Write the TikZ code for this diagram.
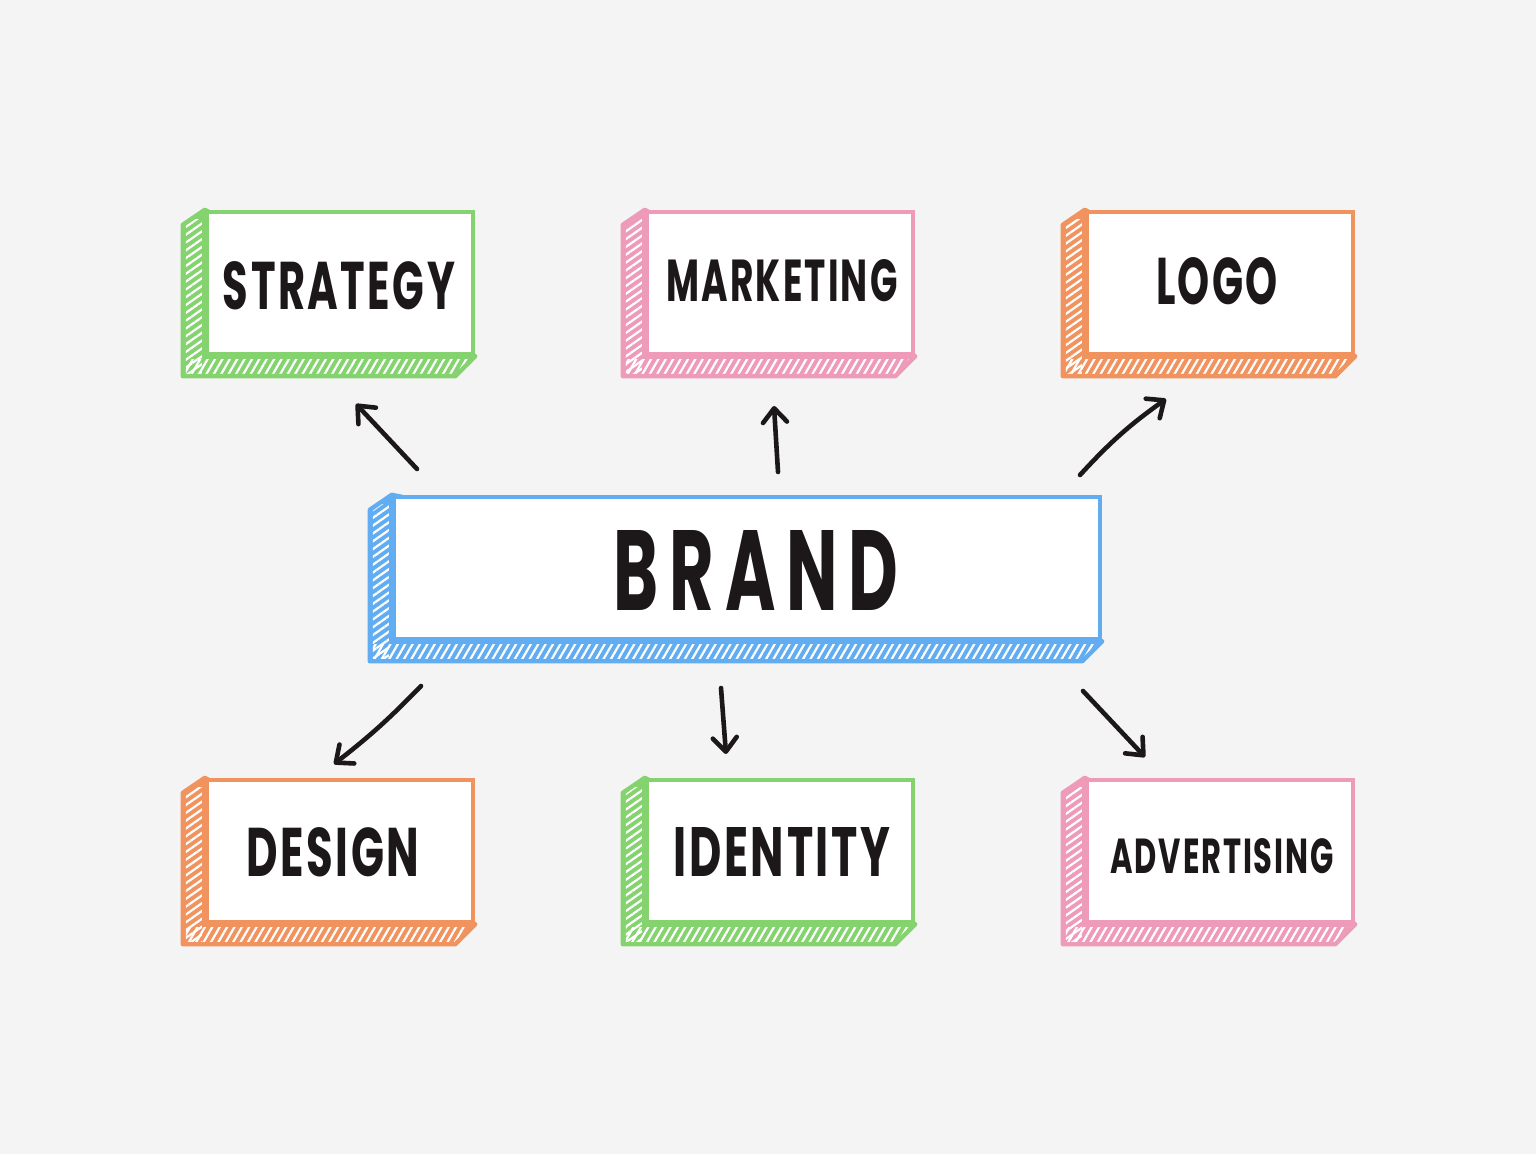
\documentclass[tikz,border=0pt]{standalone}
\usepackage{fontspec}
\setmainfont{Poppins}
\newfontfamily\spaced[LetterSpace=6]{Poppins}
\newfontfamily\wide[LetterSpace=16]{Poppins}
\usetikzlibrary{arrows.meta,calc,patterns.meta}
\definecolor{bgc}{HTML}{F4F4F4}
\definecolor{ink}{HTML}{1C1819}
\definecolor{cgreen}{HTML}{84D36E}
\definecolor{cpink}{HTML}{EE9BB9}
\definecolor{corange}{HTML}{F1935F}
\definecolor{cblue}{HTML}{62ADF1}
\pgfdeclarelayer{bgl}
\pgfdeclarelayer{side}
\pgfsetlayers{bgl,side,main}
\newcommand{\lbl}[3]{\resizebox{#1pt}{#2pt}{\spaced\bfseries #3}}
\newcommand{\lblw}[3]{\resizebox{#1pt}{#2pt}{\wide\bfseries #3}}
\newcommand{\slab}[2]{%
  \begin{pgfonlayer}{side}
    \begin{scope}
      \path[clip] (#1.north west) -- ++(-22,15) -- ($(#1.south west)+(-22,20)$)
        -- ($(#1.south east)+(-20,20)$) -- (#1.south east) -- cycle;
      \fill[#2] ($(#1.north west)+(-30,-5)$) rectangle ($(#1.south east)+(5,30)$);
      \fill[pattern={Lines[angle=35,distance=3.2pt,line width=1.1pt]},pattern color=white]
        ($(#1.north west)+(-19,10)$) rectangle ($(#1.south west)+(-3,18)$);
      \fill[pattern={Lines[angle=60,distance=3.2pt,line width=1.1pt]},pattern color=white]
        ($(#1.south west)+(-19,3)$) rectangle ($(#1.south east)+(0,17)$);
    \end{scope}
    \draw[#2,line width=2.2pt,line join=round] (#1.north west) -- ++(-22,15) -- ($(#1.south west)+(-22,20)$)
        -- ($(#1.south east)+(-20,20)$) -- (#1.south east) -- cycle;
  \end{pgfonlayer}}
\tikzset{
  front/.style={draw=#1, fill=white, line width=2.2pt, minimum width=133pt, minimum height=71pt, inner sep=0pt},
  txt/.style={inner sep=0pt, text=ink},
  arr/.style={draw=ink, line width=2.3pt, line cap=round, -{Straight Barb[length=7pt,width=12pt,round]}}
}
\begin{document}
\begin{tikzpicture}[x=0.5pt,y=-0.5pt]
\begin{pgfonlayer}{bgl}
\fill[bgc] (0,0) rectangle (1536,1154);
\end{pgfonlayer}
\useasboundingbox (0,0) rectangle (1536,1154);

% boxes
\node[front=cgreen] (strategy) at (340,283) {};
\node[front=cpink] (marketing) at (780,283) {};
\node[front=corange] (logo) at (1220,283) {};
\node[front=cblue, minimum width=353pt] (brand) at (747,568) {};
\node[front=corange] (design) at (340,851) {};
\node[front=cgreen] (identity) at (780,851) {};
\node[front=cpink] (advertising) at (1220,851) {};

\slab{strategy}{cgreen}
\slab{marketing}{cpink}
\slab{logo}{corange}
\slab{brand}{cblue}
\slab{design}{corange}
\slab{identity}{cgreen}
\slab{advertising}{cpink}

% labels
\node[txt] (strategy-t) at (339,286) {\lbl{116}{24}{STRATEGY}};
\node[txt] (marketing-t) at (782,281) {\lbl{115.5}{21}{MARKETING}};
\node[txt] (logo-t) at (1217,281) {\lbl{61}{23.5}{LOGO}};
\node[txt] (brand-t) at (756,570) {\lblw{142.5}{40}{BRAND}};
\node[txt] (design-t) at (333,852) {\lbl{86.5}{24.5}{DESIGN}};
\node[txt] (identity-t) at (782,852) {\lbl{108.5}{24.5}{IDENTITY}};
\node[txt] (advertising-t) at (1222,856) {\lbl{111.5}{17.5}{ADVERTISING}};

% arrow ends
\coordinate (s1) at (417,469); \coordinate (e1) at (356,404);
\coordinate (s2) at (778,472); \coordinate (e2) at (774,406);
\coordinate (s3) at (1080,475); \coordinate (e3) at (1166,399);
\coordinate (s4) at (421,686); \coordinate (e4) at (334,764);
\coordinate (s5) at (721,688); \coordinate (e5) at (726,754);
\coordinate (s6) at (1083,691); \coordinate (e6) at (1145,757);

\draw[arr] (s1) -- (e1);
\draw[arr] (s2) -- (e2);
\draw[arr] (s3) to[bend left=6] (e3);
\draw[arr] (s4) to[bend left=4] (e4);
\draw[arr] (s5) -- (e5);
\draw[arr] (s6) -- (e6);
\end{tikzpicture}
\end{document}
